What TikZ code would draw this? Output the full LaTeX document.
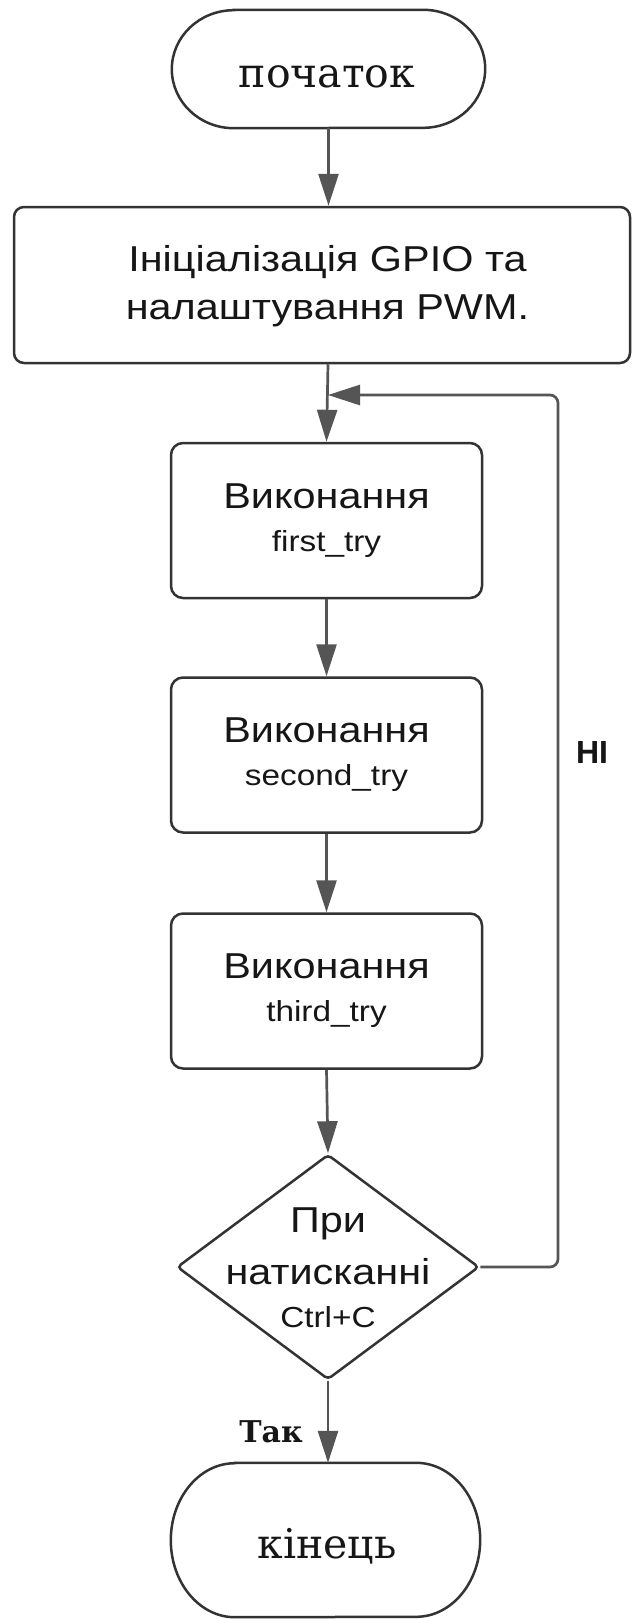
\documentclass[tikz,border=0pt]{standalone}
\usepackage{fontspec}
\setmainfont{Liberation Sans}
\newfontfamily\flowsans[FakeStretch=1.15]{Liberation Sans}
\newfontfamily\flowsansbold{Liberation Sans Bold}
\newfontfamily\flowserif{DejaVu Serif}
\newfontfamily\flowserifbold{DejaVu Serif Bold}
\usetikzlibrary{arrows.meta,shapes.geometric}

\definecolor{edgec}{HTML}{333333}
\definecolor{arrowc}{HTML}{555555}
\definecolor{inkc}{HTML}{161616}

% stadium outline with elliptic ends: node name, x radius, y radius
\newcommand\drawstadium[3]{%
  \draw[outline] ([xshift=#2]#1.north west) -- ([xshift=-#2]#1.north east)
    arc[start angle=90, end angle=-90, x radius=#2, y radius=#3]
    -- ([xshift=#2]#1.south west)
    arc[start angle=270, end angle=90, x radius=#2, y radius=#3] -- cycle;}

\begin{document}
\begin{tikzpicture}[x=1pt, y=1pt,
  outline/.style={draw=edgec, line width=2.5pt},
  termbox/.style={rectangle, inner sep=0pt},
  termtext/.style={text=inkc, anchor=base, font=\flowserif\fontsize{41}{41}\selectfont},
  procbox/.style={outline, rectangle, rounded corners=12pt, inner sep=0pt,
    minimum width=311pt, minimum height=155pt, align=center, text=inkc,
    font=\flowsans\fontsize{29}{43}\selectfont},
  initbox/.style={outline, rectangle, rounded corners=10pt, inner sep=0pt,
    minimum width=616pt, minimum height=156pt},
  inittext/.style={align=center, text=inkc, inner sep=0pt,
    font=\flowsans\fontsize{36}{48}\selectfont},
  decision/.style={outline, diamond, rounded corners=4pt, inner sep=0pt,
    minimum width=302pt, minimum height=225pt},
  dectext/.style={align=center, text=inkc, inner sep=0pt,
    font=\flowsans\fontsize{29}{43}\selectfont},
  flow/.style={draw=arrowc, line width=2.7pt,
    -{Triangle[width=20pt, length=32pt]}},
  branch/.style={text=inkc, inner sep=0pt}]

\useasboundingbox (0,0) rectangle (632,-1619);
\fill[white] (0,0) rectangle (632,-1619);

% terminals
\node[termbox, minimum width=313pt, minimum height=118pt] (start) at (328.5,-69) {};
\drawstadium{start}{62pt}{59pt}
\node[termtext] (starttext) at (327,-87) {початок};

\node[termbox, minimum width=309pt, minimum height=154pt] (stop) at (325.5,-1540) {};
\drawstadium{stop}{64pt}{77pt}
\node[termtext] (stoptext) at (327,-1558) {кінець};

% set-up step
\node[initbox] (init) at (322,-285) {};
\node[inittext] (initlabel) at (327.5,-286) {Ініціалізація GPIO та\\налаштування PWM.};

% process steps
\node[procbox] (first) at (326.5,-520.5)
  {{\fontsize{36}{43}\selectfont Виконання}\\first\_try};
\node[procbox] (second) at (326.5,-755)
  {{\fontsize{36}{43}\selectfont Виконання}\\second\_try};
\node[procbox] (third) at (326.5,-991)
  {{\fontsize{36}{43}\selectfont Виконання}\\third\_try};

% decision
\node[decision] (dec) at (328,-1267) {};
\node[dectext] (dectxt) at (328,-1268)
  {{\fontsize{36}{43}\selectfont При}\\[9pt]{\fontsize{36}{43}\selectfont натисканні}\\Ctrl+C};

% loop-back junction
\coordinate (join) at (328,-395);
\coordinate (loopc) at (558,-395);

% main flow
\draw[flow] (start.south) -- (init.north -| start.south);
\draw[flow] (init.south -| join) -- (first.north);
\draw[flow] (first.south) -- (second.north);
\draw[flow] (second.south) -- (third.north);
\draw[flow] (third.south) -- (dec.north);
\draw[flow] (dec.south) -- (stop.north -| dec.south);

% "no" branch back to the loop start
\draw[flow, rounded corners=8pt] (dec.east) -| (loopc) -- (join);

% branch labels
\node[branch, font=\flowsansbold\fontsize{32}{32}\selectfont] (no) at (592,-752) {НІ};
\node[branch, anchor=base, font=\flowserifbold\fontsize{30}{30}\selectfont] (yes) at (271,-1442) {Так};
\end{tikzpicture}
\end{document}
